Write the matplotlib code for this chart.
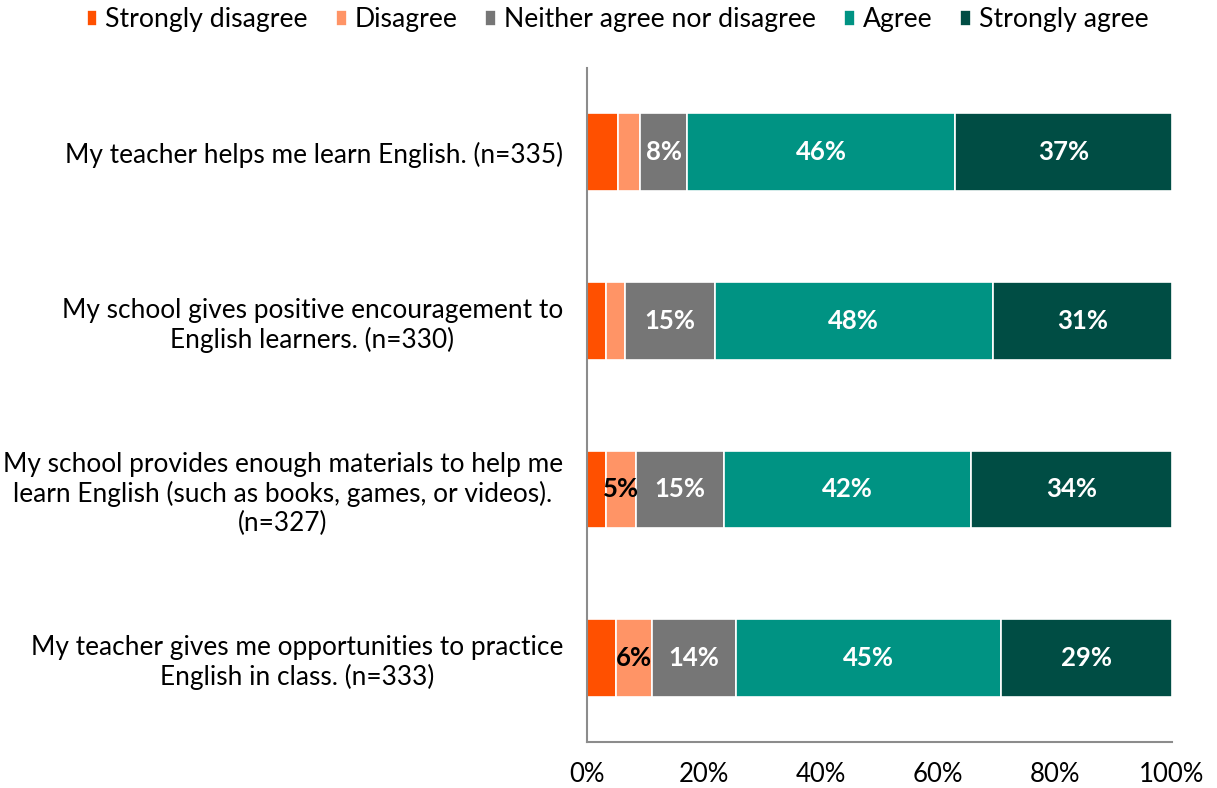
import matplotlib.pyplot as plt
import numpy as np

plt.rcParams["font.family"] = ["Lato", "DejaVu Sans"]

categories = [
    "My teacher helps me learn English. (n=335)",
    "My school gives positive encouragement to\nEnglish learners. (n=330)",
    "My school provides enough materials to help me\nlearn English (such as books, games, or videos).\n(n=327)",
    "My teacher gives me opportunities to practice\nEnglish in class. (n=333)",
]
series = ["Strongly disagree", "Disagree", "Neither agree nor disagree", "Agree", "Strongly agree"]
strongly_disagree = [5.4, 3.4, 3.4, 5.1]
disagree = [3.8, 3.1, 5.1, 6.0]
neither = [8.0, 15.4, 15.0, 14.4]
agree = [45.8, 47.5, 42.2, 45.3]
strongly_agree = [37.0, 30.6, 34.3, 29.2]

colors = ["#FF5000", "#FF9466", "#767676", "#009383", "#004D44"]
label_colors = [None, "black", "white", "white", "white"]

values = [strongly_disagree, disagree, neither, agree, strongly_agree]

fig, ax = plt.subplots(figsize=(12.17, 7.88), dpi=100)
fig.subplots_adjust(left=0.482, right=0.963, top=0.914, bottom=0.058)

y = np.arange(len(categories))
left = np.zeros(len(categories))
for name, vals, col, lc in zip(series, values, colors, label_colors):
    vals = np.array(vals)
    ax.barh(y, vals, left=left, height=0.46, color=col, edgecolor="white",
            linewidth=1.2, label=name)
    if lc is not None:
        for yi, v, l in zip(y, vals, left):
            if v >= 4.5:
                ax.text(l + v / 2, yi, f"{v:.0f}%", ha="center", va="center",
                        color=lc, fontsize=18.5, fontweight="bold")
    left += vals

ax.set_ylim(3.5, -0.5)
ax.set_xlim(0, 100)
ax.set_yticks(y)
ax.set_yticklabels(categories, fontsize=18.9, linespacing=1.2,
                   multialignment="center")
ax.set_xticks(np.arange(0, 101, 20))
ax.set_xticklabels([f"{t}%" for t in range(0, 101, 20)], fontsize=18.5)
ax.tick_params(axis="y", length=0, pad=17)
ax.tick_params(axis="x", length=0, pad=14)
for s in ["top", "right"]:
    ax.spines[s].set_visible(False)
for s in ["left", "bottom"]:
    ax.spines[s].set_color("#8c8c8c")
    ax.spines[s].set_linewidth(1.5)

ax.legend(loc="upper center", bbox_to_anchor=(0.053, 1.125), ncol=5, frameon=False,
          fontsize=19.2, handlelength=0.4, handleheight=0.55, handletextpad=0.3,
          columnspacing=1.05)

fig.savefig("out.png", dpi=100)
